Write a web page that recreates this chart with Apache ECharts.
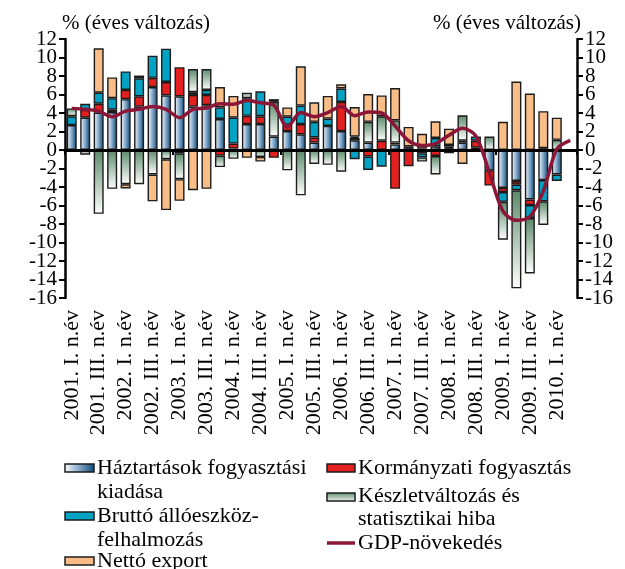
<!DOCTYPE html>
<html>
<head>
<meta charset="utf-8">
<script src="https://cdn.jsdelivr.net/npm/echarts@6/dist/echarts.min.js"></script>
<style>
html,body{margin:0;padding:0;background:#fff;}
#c{width:625px;height:569px;}
</style>
</head>
<body>
<div id="c"></div>
<script>
const categories = [
  '2001. I. n.év','2001. II. n.év','2001. III. n.év','2001. IV. n.év',
  '2002. I. n.év','2002. II. n.év','2002. III. n.év','2002. IV. n.év',
  '2003. I. n.év','2003. II. n.év','2003. III. n.év','2003. IV. n.év',
  '2004. I. n.év','2004. II. n.év','2004. III. n.év','2004. IV. n.év',
  '2005. I. n.év','2005. II. n.év','2005. III. n.év','2005. IV. n.év',
  '2006. I. n.év','2006. II. n.év','2006. III. n.év','2006. IV. n.év',
  '2007. I. n.év','2007. II. n.év','2007. III. n.év','2007. IV. n.év',
  '2008. I. n.év','2008. II. n.év','2008. III. n.év','2008. IV. n.év',
  '2009. I. n.év','2009. II. n.év','2009. III. n.év','2009. IV. n.év',
  '2010. I. n.év','2010. II. n.év'
];
const household = [2.7, 3.5, 4.05, 4.1, 5.5, 4.7, 6.8, 5.9, 5.8, 4.7,
  4.85, 3.35, 0.15, 2.8, 2.8, 1.45, 2.05, 1.7, 0.8, 2.6,
  2.05, 1.05, 0.8, null, 0.6, 0.2, 0.15, 0.4, 0.2, 0.8,
  0.25, -2.2, -4.1, -3.35, -5.35, -3.25, -2.65, null];
const government = [null, 0.85, 0.95, 0.25, 1.0, 1.1, 1.0, 1.45, 3.15, 1.25,
  1.1, -0.6, 0.55, 0.9, 0.85, -0.85, 0.7, 1.1, 0.55, null,
  3.15, 0.25, -0.7, 1.0, -4.2, -1.75, -0.35, -0.65, 0.15, null,
  0.75, -1.65, -0.45, -0.4, -0.6, 0.2, null, null];
const investment = [0.95, 0.65, 1.2, 1.25, 2.0, 1.95, 2.4, 3.6, -0.35, 0.3,
  0.55, 1.25, 2.8, 1.9, 2.7, null, 0.85, 2.0, 1.7, 0.8,
  1.45, -1.0, -1.45, -1.8, 0.2, null, -0.45, 0.9, 0.2, 0.2,
  0.45, null, -1.05, -0.6, -1.4, -2.3, -0.7, null];
const inventory = [0.85, -0.5, -6.9, -4.2, -3.7, -3.7, -2.65, -1.0, -2.8, 2.5,
  2.25, -1.25, -0.95, 0.6, -0.75, 3.75, -2.2, -4.9, -1.5, -1.6,
  -2.35, 0.15, 2.25, 2.65, 2.4, 0.2, -0.45, -2.0, -0.35, 2.75,
  null, 1.45, -4.1, -10.6, -6.0, -2.55, 1.1, null];
const netExport = [null, null, 4.8, 2.25, -0.45, 0.3, -2.9, -5.5, -2.35, -4.35,
  -4.2, 2.2, 2.35, -0.85, -0.5, 0.3, 1.0, 4.25, 2.1, 2.45,
  0.45, 3.2, 3.0, 2.25, 3.5, 2.1, 1.6, 1.8, 1.75, -1.5,
  null, null, 3.05, 7.4, 6.1, 4.0, 2.4, null];
const gdp = [4.5, 4.4, 4.2, 3.6, 4.2, 4.4, 4.7, 4.4, 3.5, 4.4,
  4.55, 5.0, 4.95, 5.35, 5.1, 4.85, 2.5, 4.05, 3.6, 4.05,
  4.7, 3.7, 4.1, 4.0, 2.6, 1.0, 0.5, 0.7, 1.6, 2.35,
  1.5, -2.45, -6.6, -7.6, -7.2, -4.45, 0.1, 1.05];
// y tick labels, split into two alternating sets so none is dropped as overlapping
const yTickLabelsA = [-16, -12, -8, -4, 0, 4, 8, 12];
const yTickLabelsB = [-14, -10, -6, -2, 2, 6, 10];

const names = {
  household: 'Háztartások fogyasztási kiadása',
  investment: 'Bruttó állóeszköz-felhalmozás',
  netExport: 'Nettó export',
  government: 'Kormányzati fogyasztás',
  inventory: 'Készletváltozás és statisztikai hiba',
  gdp: 'GDP-növekedés'
};

const FONT = '"Liberation Serif", "DejaVu Serif", serif';
const G = echarts.graphic;
const householdFill = () => new G.LinearGradient(0, 0, 1, 0, [
  {offset: 0, color: '#ffffff'}, {offset: 0.45, color: '#8eb0cf'}, {offset: 1, color: '#0a4676'}]);
const inventoryFill = () => new G.LinearGradient(0, 0, 0, 1, [
  {offset: 0, color: '#5a8a69'}, {offset: 1, color: '#ffffff'}]);
const colors = {
  investment: '#03a2c3', netExport: '#f9bd88', government: '#e31f1f', gdp: '#8c1637'
};
const border = {borderColor: '#1c1c1c', borderWidth: 1.4};

function barSeries(name, data, color) {
  return {
    name: name, type: 'bar', stack: 'total', data: data, barWidth: 10,
    itemStyle: Object.assign({color: color}, border),
    emphasis: {disabled: true}, z: 2
  };
}

function yAxisDef(position, labels, withLine) {
  return {
    type: 'value', position: position, min: -16, max: 12, interval: 2,
    axisLine: {show: withLine, lineStyle: {color: '#000', width: 2.5}},
    axisTick: {show: withLine, length: 6, lineStyle: {color: '#000', width: 2}},
    axisLabel: {color: '#000', fontSize: 21, fontFamily: FONT, margin: 8,
                customValues: labels, showMinLabel: true, showMaxLabel: true},
    splitLine: {show: false}
  };
}

const chart = echarts.init(document.getElementById('c'), null, {renderer: 'canvas'});
chart.setOption({
  animation: false,
  backgroundColor: '#fff',
  grid: {left: 65, right: 48, top: 39, height: 259},
  xAxis: [
    {type: 'category', data: categories, position: 'bottom',
     axisLine: {show: false}, axisTick: {show: false},
     axisLabel: {rotate: 90, interval: 1, margin: 12, color: '#000', fontSize: 22, fontFamily: FONT}},
    {type: 'category', data: categories, position: 'top', z: 5,
     axisLine: {show: true, onZero: true, lineStyle: {color: '#000', width: 3}},
     axisTick: {show: true, inside: true, length: 5, lineStyle: {color: '#000', width: 2}},
     axisLabel: {show: false}}
  ],
  yAxis: [
    yAxisDef('left', yTickLabelsA, true),
    yAxisDef('left', yTickLabelsB, false),
    yAxisDef('right', yTickLabelsA, true),
    yAxisDef('right', yTickLabelsB, false)
  ],
  series: [
    barSeries(names.household, household, householdFill()),
    barSeries(names.government, government, colors.government),
    barSeries(names.investment, investment, colors.investment),
    barSeries(names.inventory, inventory, inventoryFill()),
    barSeries(names.netExport, netExport, colors.netExport),
    {name: names.gdp, type: 'line', data: gdp, smooth: 0.3, symbol: 'none', z: 10,
     lineStyle: {color: colors.gdp, width: 3.5}}
  ],
  graphic: [
    {type: 'text', z: 10, style: {x: 62, y: 23, text: '% (éves változás)', font: '21px ' + FONT, fill: '#000', verticalAlign: 'middle'}},
    {type: 'text', z: 10, style: {x: 581, y: 23, text: '% (éves változás)', font: '21px ' + FONT, fill: '#000', align: 'right', verticalAlign: 'middle'}},

    {type: 'rect', shape: {x: 65, y: 464, width: 29, height: 8}, style: {fill: householdFill(), stroke: '#1c1c1c', lineWidth: 1.5}},
    {type: 'text', style: {x: 97, y: 456, text: 'Háztartások fogyasztási\nkiadása', font: '22px ' + FONT, lineHeight: 24, fill: '#000', verticalAlign: 'top'}},
    {type: 'rect', shape: {x: 65, y: 512, width: 29, height: 8}, style: {fill: colors.investment, stroke: '#1c1c1c', lineWidth: 1.5}},
    {type: 'text', style: {x: 97, y: 504, text: 'Bruttó állóeszköz-\nfelhalmozás', font: '22px ' + FONT, lineHeight: 24, fill: '#000', verticalAlign: 'top'}},
    {type: 'rect', shape: {x: 65, y: 557, width: 29, height: 8}, style: {fill: colors.netExport, stroke: '#1c1c1c', lineWidth: 1.5}},
    {type: 'text', style: {x: 97, y: 549, text: 'Nettó export', font: '22px ' + FONT, lineHeight: 24, fill: '#000', verticalAlign: 'top'}},

    {type: 'rect', shape: {x: 327, y: 464, width: 28, height: 8}, style: {fill: colors.government, stroke: '#1c1c1c', lineWidth: 1.5}},
    {type: 'text', style: {x: 358, y: 456, text: 'Kormányzati fogyasztás', font: '22px ' + FONT, lineHeight: 24, fill: '#000', verticalAlign: 'top'}},
    {type: 'rect', shape: {x: 327, y: 493, width: 28, height: 8}, style: {fill: new G.LinearGradient(0, 0, 0, 1, [{offset: 0, color: '#5a8a69'}, {offset: 1, color: '#f4f8f5'}]), stroke: '#1c1c1c', lineWidth: 1.5}},
    {type: 'text', style: {x: 358, y: 485, text: 'Készletváltozás és\nstatisztikai hiba', font: '22px ' + FONT, lineHeight: 23, fill: '#000', verticalAlign: 'top'}},
    {type: 'line', shape: {x1: 327, y1: 543, x2: 355, y2: 543}, style: {stroke: colors.gdp, lineWidth: 3.5}},
    {type: 'text', style: {x: 358, y: 531, text: 'GDP-növekedés', font: '22px ' + FONT, lineHeight: 24, fill: '#000', verticalAlign: 'top'}}
  ]
});
</script>
</body>
</html>
